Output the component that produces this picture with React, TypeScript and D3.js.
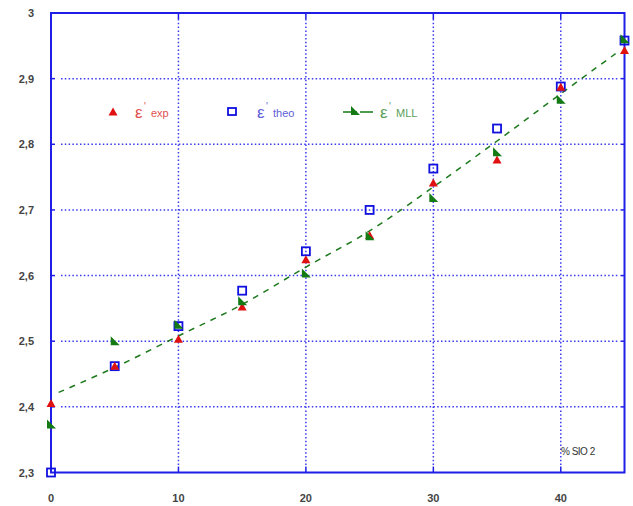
import React from "react";
import * as d3 from "d3";

const xValues = [0, 5, 10, 15, 20, 25, 30, 35, 40, 45];
const expValues = [2.405, 2.462, 2.503, 2.552, 2.624, 2.661, 2.741, 2.776, 2.887, 2.943];
const theoValues = [2.3, 2.462, 2.523, 2.577, 2.637, 2.7, 2.763, 2.824, 2.888, 2.958];
const mllValues = [2.373, 2.5, 2.525, 2.561, 2.603, 2.66, 2.718, 2.788, 2.868, 2.96];
const fitX = [0.6, 5, 10, 15, 20, 25, 30, 35, 40, 44.3];
const fitY = [2.422, 2.46, 2.508, 2.556, 2.613, 2.668, 2.735, 2.805, 2.877, 2.938];
const xTicks = [0, 10, 20, 30, 40];
const yTicks = [2.3, 2.4, 2.5, 2.6, 2.7, 2.8, 2.9, 3];
const xLabel = "% SIO 2";

const W = 633, H = 506;
const L = 51, R = 624.5, T = 13, B = 472.5;

export default function App() {
  const x = d3.scaleLinear().domain([0, 45]).range([L, R]);
  const y = d3.scaleLinear().domain([2.3, 3]).range([B, T]);
  const frame = "#1e1ee6";
  const grid = "#3a3af0";
  const fmt = (v: number) => (v === 3 ? "3" : v.toFixed(1).replace(".", ","));
  const line = d3
    .line<number>()
    .x((_, i) => x(fitX[i]))
    .y((d) => y(d))
    .curve(d3.curveCatmullRom);
  const tri = (cx: number, cy: number) =>
    `M${cx},${cy - 4.5}L${cx + 4.5},${cy + 3.5}L${cx - 4.5},${cy + 3.5}Z`;
  const rtri = (cx: number, cy: number) =>
    `M${cx - 4},${cy - 5}L${cx + 5},${cy + 4}L${cx - 4},${cy + 4}Z`;

  const legendY = 112;
  const eps = (xx: number, color: string, label: string) => (
    <g fill={color}>
      <text x={xx} y={legendY + 6} fontSize={17}>ε</text>
      <text x={xx + 9} y={legendY - 2} fontSize={10}>'</text>
      <text x={xx + 16} y={legendY + 5} fontSize={11}>{label}</text>
    </g>
  );
  return (
    <svg
      width={W}
      height={H}
      style={{ position: "absolute", left: 0, top: 0, background: "#fff" }}
      fontFamily="Liberation Sans, Arial, sans-serif"
    >
      {/* grid */}
      {yTicks.slice(1, -1).map((t) => (
        <line key={"gy" + t} x1={L + 10} x2={R - 6} y1={y(t)} y2={y(t)} stroke={grid} strokeWidth={1.5} strokeDasharray="1.5,2.3" />
      ))}
      {xTicks.slice(1).map((t) => (
        <line key={"gx" + t} x1={x(t)} x2={x(t)} y1={T + 6} y2={B - 6} stroke={grid} strokeWidth={1.5} strokeDasharray="1.5,2.3" />
      ))}
      {/* ticks */}
      {yTicks.slice(1, -1).map((t) => (
        <g key={"ty" + t}>
          <line x1={L} x2={L + 4} y1={y(t)} y2={y(t)} stroke={frame} strokeWidth={1.5} />
          <line x1={R - 4} x2={R} y1={y(t)} y2={y(t)} stroke={frame} strokeWidth={1.5} />
        </g>
      ))}
      {xTicks.slice(1).map((t) => (
        <g key={"tx" + t}>
          <line x1={x(t)} x2={x(t)} y1={B - 6} y2={B} stroke={frame} strokeWidth={1.5} />
          <line x1={x(t)} x2={x(t)} y1={T} y2={T + 6} stroke={frame} strokeWidth={1.5} />
        </g>
      ))}
      {/* frame */}
      <rect x={L} y={T} width={R - L} height={B - T} fill="none" stroke={frame} strokeWidth={2} />
      {/* tick labels */}
      {yTicks.map((t) => (
        <text key={"ly" + t} x={34} y={y(t) + 4} textAnchor="end" fontSize={11} fontWeight="bold" fill="#444">
          {fmt(t)}
        </text>
      ))}
      {xTicks.map((t) => (
        <text key={"lx" + t} x={x(t)} y={502} textAnchor="middle" fontSize={11} fontWeight="bold" fill="#444">
          {t}
        </text>
      ))}
      <text x={561} y={455} fontSize={10} fill="#333" letterSpacing={-0.5}>
        {xLabel}
      </text>
      {/* fit line */}
      <path d={line(fitY) || ""} fill="none" stroke="#1f7a1f" strokeWidth={1.5} strokeDasharray="6,6" />
      {/* theo */}
      {theoValues.map((v, i) => (
        <rect key={"th" + i} x={x(xValues[i]) - 4} y={y(v) - 4} width={8} height={8} fill="none" stroke="#1010e0" strokeWidth={1.8} />
      ))}
      {/* exp */}
      {expValues.map((v, i) => (
        <path key={"ex" + i} d={tri(x(xValues[i]), y(v))} fill="#e01010" />
      ))}
      {/* mll */}
      {mllValues.map((v, i) => (
        <path key={"ml" + i} d={rtri(x(xValues[i]), y(v))} fill="#147a14" />
      ))}
      {/* legend */}
      <path d={tri(113, legendY)} fill="#e01010" />
      {eps(135, "#e05050", "exp")}
      <rect x={228} y={legendY - 4} width={8} height={7} fill="none" stroke="#1010e0" strokeWidth={1.8} />
      {eps(257, "#6060d8", "theo")}
      <line x1={343} x2={373} y1={legendY} y2={legendY} stroke="#147a14" strokeWidth={1.5} strokeDasharray="14,3" />
      <path d={rtri(355, legendY - 1)} fill="#147a14" />
      {eps(380, "#5aa05a", "MLL")}
    </svg>
  );
}
